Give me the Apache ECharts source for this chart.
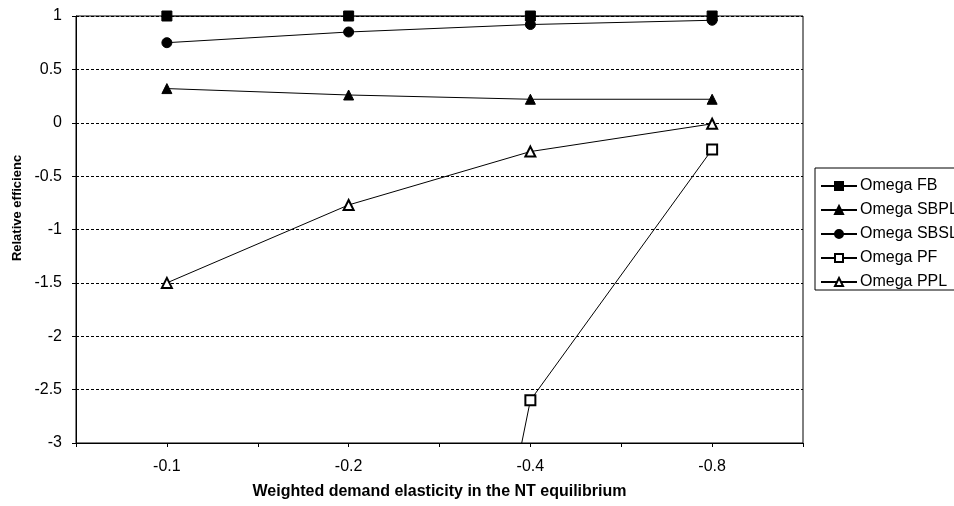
<!DOCTYPE html>
<html>
<head>
<meta charset="utf-8">
<script src="https://cdn.jsdelivr.net/npm/echarts@6/dist/echarts.min.js"></script>
<style>
html,body{margin:0;padding:0;background:#fff;}
#chart{width:954px;height:506px;}
</style>
</head>
<body>
<div id="chart"></div>
<script>
const categories = ['-0.1', '-0.2', '-0.4', '-0.8'];
const omegaFB   = [1, 1, 1, 1];
const omegaSBPL = [0.32, 0.26, 0.22, 0.22];
const omegaSBSL = [0.75, 0.85, 0.92, 0.96];
const omegaPF   = [null, -11, -2.6, -0.25];
const omegaPPL  = [-1.5, -0.77, -0.27, -0.01];
const yTicks = { min: -3, max: 1, interval: 0.5 };
const xTitle = 'Weighted demand elasticity in the NT equilibrium';
const yTitle = 'Relative efficienc';

const FONT = 'Liberation Sans, Arial, sans-serif';
function pts(vals) { return vals.map((v, i) => [2 * i + 1, v]); }
function mk(name, vals, symbol, size) {
  return {
    name: name, type: 'line', data: pts(vals),
    symbol: symbol, symbolSize: size, showAllSymbol: true,
    lineStyle: { color: '#000', width: 1 },
    itemStyle: { color: '#000', borderColor: '#000', borderWidth: 1 },
    emphasis: { disabled: true },
    clip: true, animation: false
  };
}
const chart = echarts.init(document.getElementById('chart'), null, { renderer: 'canvas' });
chart.setOption({
  animation: false,
  backgroundColor: '#fff',
  textStyle: { fontFamily: FONT, color: '#000' },
  grid: { left: 76, right: 151, top: 16, bottom: 63, show: true, borderColor: '#000', borderWidth: 1, backgroundColor: 'transparent' },
  xAxis: {
    type: 'value', min: 0, max: categories.length * 2, interval: 1,
    axisLine: { show: true, onZero: false, lineStyle: { color: '#000', width: 1 } },
    axisTick: { show: true, inside: false, length: 4, lineStyle: { color: '#000' } },
    axisLabel: {
      color: '#000', fontFamily: FONT, fontSize: 16, margin: 16,
      formatter: function (v) { return (v % 2 === 1) ? categories[(v - 1) / 2] : ''; }
    },
    splitLine: { show: false },
    name: xTitle, nameLocation: 'middle', nameGap: 41,
    nameTextStyle: { fontFamily: FONT, fontSize: 16, fontWeight: 'bold', color: '#000' }
  },
  yAxis: {
    type: 'value', min: yTicks.min, max: yTicks.max, interval: yTicks.interval,
    axisLine: { show: true, onZero: false, lineStyle: { color: '#000', width: 1 } },
    axisTick: { show: true, inside: false, length: 4, lineStyle: { color: '#000' } },
    axisLabel: { color: '#000', fontFamily: FONT, fontSize: 16, margin: 14 },
    splitLine: { show: true, lineStyle: { color: '#000', width: 1, type: [3, 2] } }
  },
  legend: {
    orient: 'vertical', left: 815, top: 168,
    padding: [10, 10, 0, 5], itemGap: 8, itemWidth: 36, itemHeight: 10,
    borderColor: '#000', borderWidth: 1, backgroundColor: '#fff',
    textStyle: { fontFamily: FONT, fontSize: 16, color: '#000', padding: [0, 0, 0, -2] },
    data: ['Omega FB', 'Omega SBPL', 'Omega SBSL', 'Omega PF', 'Omega PPL']
  },
  graphic: [{
    type: 'text', x: 17, y: 208, rotation: Math.PI / 2,
    style: { text: yTitle, font: 'bold 13px ' + FONT, fill: '#000', align: 'center', verticalAlign: 'middle' }
  }],
  series: [
    mk('Omega FB', omegaFB, 'rect', 10),
    mk('Omega SBPL', omegaSBPL, 'triangle', 10),
    mk('Omega SBSL', omegaSBSL, 'circle', 10),
    mk('Omega PF', omegaPF, 'emptyRect', 10),
    mk('Omega PPL', omegaPPL, 'emptyTriangle', 10)
  ]
});
</script>
</body>
</html>
